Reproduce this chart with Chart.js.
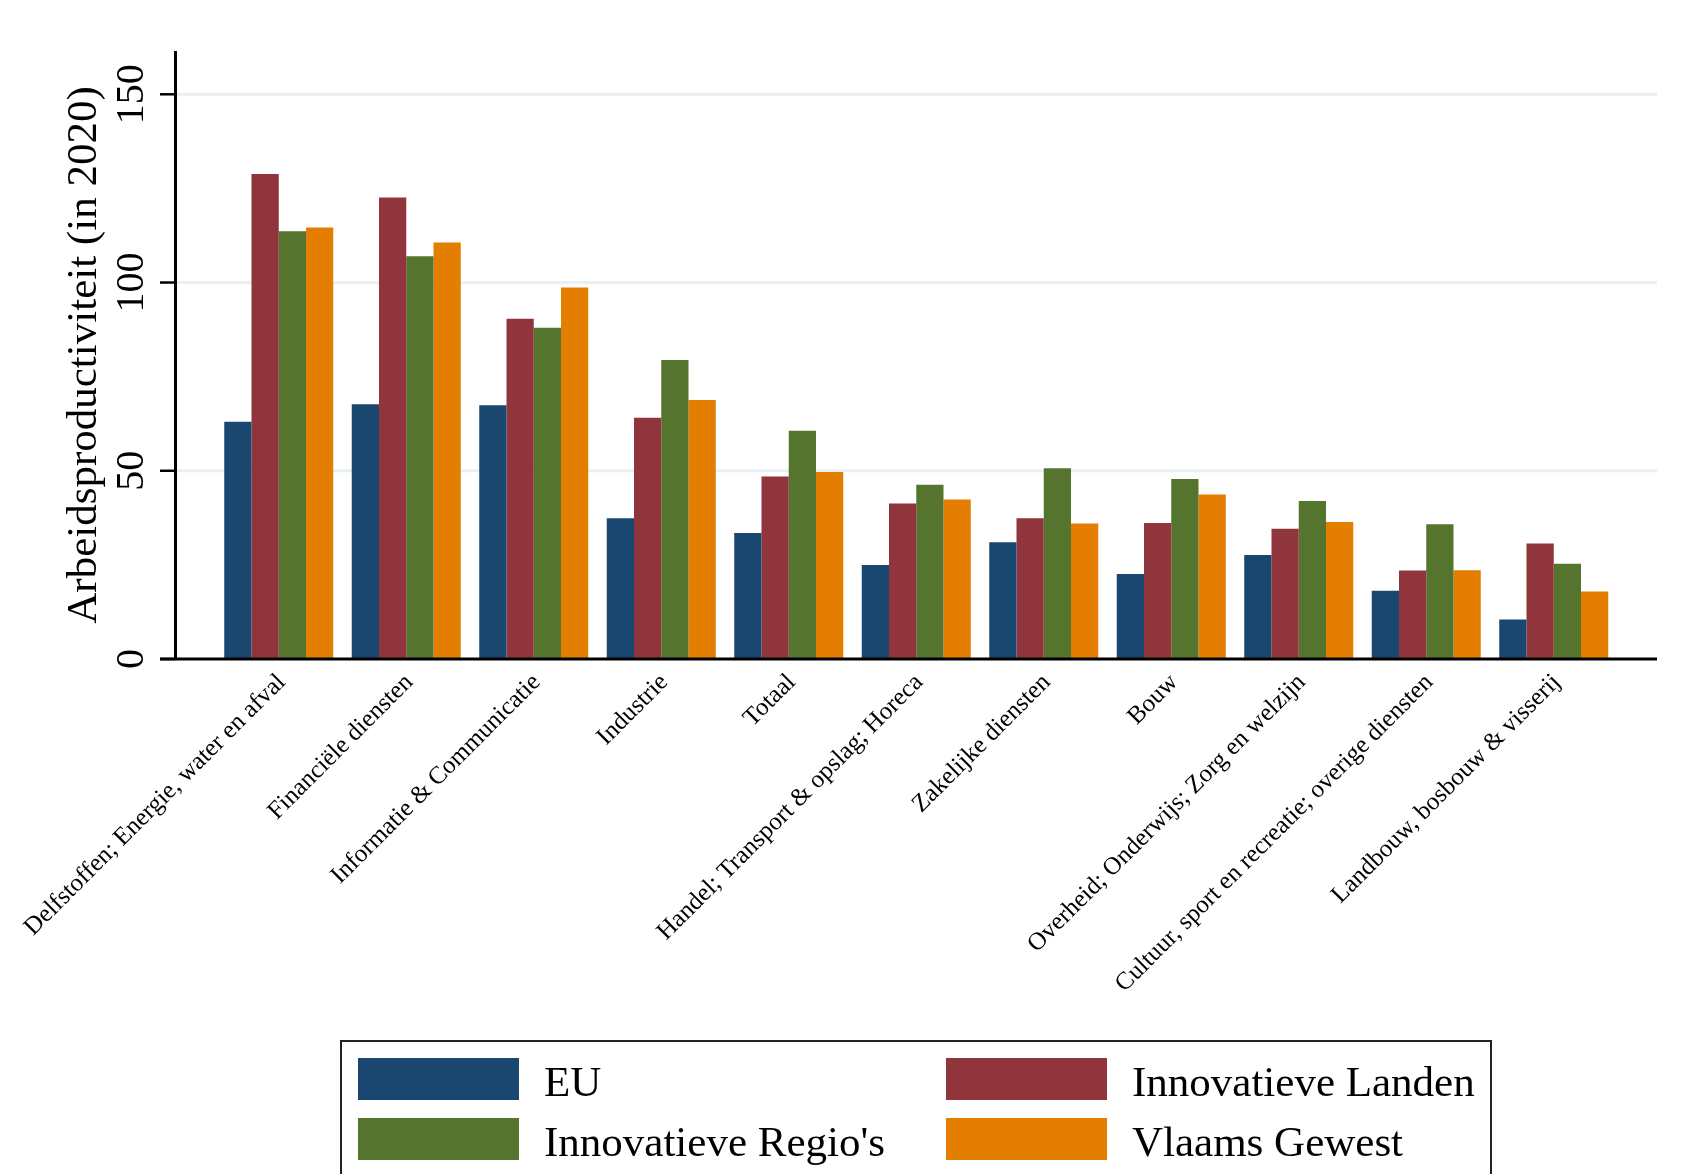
<!DOCTYPE html>
<html>
<head>
<meta charset="utf-8">
<script src="https://cdn.jsdelivr.net/npm/chart.js@4.4.1/dist/chart.umd.min.js"></script>
<style>
html,body{margin:0;padding:0;background:#fff;}
#wrap{width:1683px;height:1174px;position:relative;}
</style>
</head>
<body>
<div id="wrap"><canvas id="c" width="1683" height="1174"></canvas></div>
<script>
const categories = [
  "Delfstoffen; Energie, water en afval",
  "Financiële diensten",
  "Informatie & Communicatie",
  "Industrie",
  "Totaal",
  "Handel; Transport & opslag; Horeca",
  "Zakelijke diensten",
  "Bouw",
  "Overheid; Onderwijs; Zorg en welzijn",
  "Cultuur, sport en recreatie; overige diensten",
  "Landbouw, bosbouw & visserij"
];
const seriesNames = ["EU", "Innovatieve Landen", "Innovatieve Regio's", "Vlaams Gewest"];
const euValues          = [63.0, 67.7, 67.4, 37.4, 33.5, 25.0, 31.0, 22.6, 27.6, 18.1, 10.5];
const innovLandenValues = [128.8, 122.6, 90.4, 64.1, 48.5, 41.3, 37.4, 36.1, 34.6, 23.5, 30.7];
const innovRegiosValues = [113.6, 107.0, 88.0, 79.4, 60.6, 46.3, 50.7, 47.8, 42.0, 35.8, 25.3];
const vlaamsValues      = [114.6, 110.6, 98.7, 68.8, 49.7, 42.4, 36.0, 43.7, 36.4, 23.6, 17.9];
const yTickValues = [0, 50, 100, 150];
const yTitle = "Arbeidsproductiviteit (in 2020)";

const seriesColors = ["#1a476f", "#90353b", "#55752f", "#e37e00"];
const serif = '"Liberation Serif", "Times New Roman", serif';

const AXIS_X = 175.5, TICK_START = 160, PLOT_RIGHT = 1657;

const framePlugin = {
  id: 'frame',
  beforeDatasetsDraw(chart) {
    const ctx = chart.ctx, y = chart.scales.y;
    ctx.save();
    ctx.strokeStyle = '#e8f0f2';
    ctx.lineWidth = 3;
    yTickValues.forEach(v => {
      if (v === 0) return;
      const py = y.getPixelForValue(v);
      ctx.beginPath(); ctx.moveTo(AXIS_X, py); ctx.lineTo(PLOT_RIGHT, py); ctx.stroke();
    });
    ctx.restore();
  },
  afterDatasetsDraw(chart) {
    const ctx = chart.ctx, y = chart.scales.y, area = chart.chartArea;
    const y0 = y.getPixelForValue(0);
    ctx.save();
    ctx.strokeStyle = '#000';
    ctx.lineWidth = 3;
    ctx.beginPath(); ctx.moveTo(AXIS_X, area.top); ctx.lineTo(AXIS_X, y0); ctx.stroke();
    ctx.beginPath(); ctx.moveTo(TICK_START, y0); ctx.lineTo(PLOT_RIGHT, y0); ctx.stroke();
    ctx.lineWidth = 2.5;
    ctx.fillStyle = '#000';
    ctx.font = '40px ' + serif;
    yTickValues.forEach(v => {
      const py = y.getPixelForValue(v);
      ctx.beginPath(); ctx.moveTo(TICK_START, py); ctx.lineTo(AXIS_X, py); ctx.stroke();
      ctx.save();
      ctx.translate(143, py);
      ctx.rotate(-Math.PI / 2);
      ctx.textAlign = 'center';
      ctx.textBaseline = 'alphabetic';
      ctx.fillText(String(v), 0, 0);
      ctx.restore();
    });
    ctx.save();
    ctx.font = '43px ' + serif;
    ctx.translate(96, (area.top + y0) / 2);
    ctx.rotate(-Math.PI / 2);
    ctx.textAlign = 'center';
    ctx.textBaseline = 'alphabetic';
    ctx.fillText(yTitle, 0, 0);
    ctx.restore();
    ctx.restore();
  }
};

const legendPlugin = {
  id: 'boxLegend',
  afterDraw(chart) {
    const ctx = chart.ctx;
    ctx.save();
    ctx.strokeStyle = '#222';
    ctx.lineWidth = 2;
    ctx.strokeRect(341, 1041, 1150, 200);
    const colX = [358, 946];
    const rowY = [1058, 1118];
    ctx.font = '43px ' + serif;
    ctx.textAlign = 'left';
    ctx.textBaseline = 'alphabetic';
    chart.data.datasets.forEach((ds, i) => {
      const cx = colX[i % 2], ry = rowY[Math.floor(i / 2)];
      ctx.fillStyle = ds.backgroundColor;
      ctx.fillRect(cx, ry, 161, 42);
      ctx.fillStyle = '#000';
      ctx.fillText(ds.label, cx + 161 + 25, ry + 38);
    });
    ctx.restore();
  }
};

const valueSeries = [euValues, innovLandenValues, innovRegiosValues, vlaamsValues];

new Chart(document.getElementById('c'), {
  type: 'bar',
  data: {
    labels: categories,
    datasets: seriesNames.map((n, i) => ({
      label: n,
      data: valueSeries[i],
      backgroundColor: seriesColors[i],
      borderWidth: 0,
      categoryPercentage: 0.855,
      barPercentage: 1.0
    }))
  },
  options: {
    responsive: false,
    animation: false,
    devicePixelRatio: 1,
    layout: { padding: { left: 215, right: 65.5, top: 51, bottom: 155 } },
    plugins: { legend: { display: false }, tooltip: { enabled: false } },
    scales: {
      x: {
        type: 'category',
        offset: true,
        grid: { display: false, drawTicks: false },
        border: { display: false },
        ticks: {
          autoSkip: false, minRotation: 45, maxRotation: 45, padding: 9, labelOffset: 3,
          color: '#000', font: { family: serif, size: 25 }
        },
        afterFit(s) { s.height = 360; s.paddingLeft = 0; s.paddingRight = 0; }
      },
      y: { display: false, min: 0, max: 161.5 }
    }
  },
  plugins: [framePlugin, legendPlugin]
});
</script>
</body>
</html>
